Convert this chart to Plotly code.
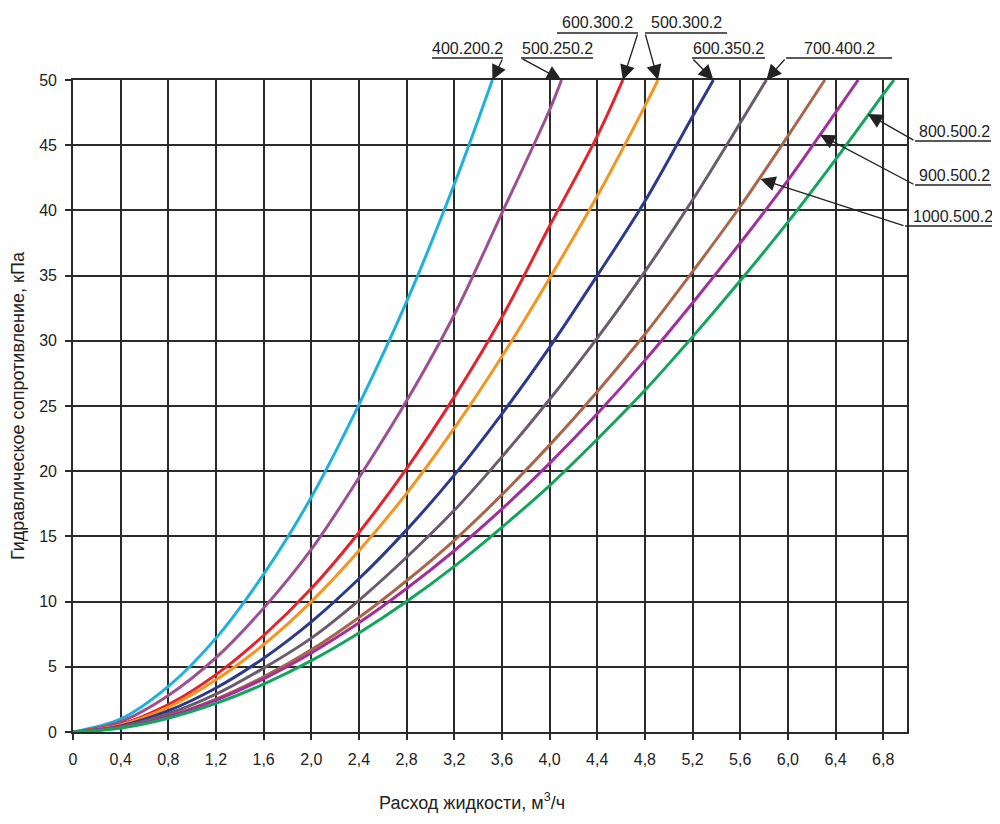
import plotly.graph_objects as go

# ---- data ----
names = ["400.200.2", "500.250.2", "600.300.2", "500.300.2", "600.350.2",
         "700.400.2", "1000.500.2", "900.500.2", "800.500.2"]

q_400_200 = [0, 0.4, 0.8, 1.2, 1.6, 2.0, 2.4, 2.8, 3.2, 3.52]
p_400_200 = [0, 1.0, 3.5, 7.2, 12.1, 18.0, 25.1, 33.0, 42.0, 50.0]

q_500_250 = [0, 0.4, 0.8, 1.2, 1.6, 2.0, 2.4, 2.8, 3.2, 3.6, 4.0, 4.10]
p_500_250 = [0, 0.8, 2.8, 5.7, 9.5, 14.0, 19.5, 25.4, 32.0, 39.8, 47.7, 50.0]

q_600_300 = [0, 0.4, 0.8, 1.2, 1.6, 2.0, 2.4, 2.8, 3.2, 3.6, 4.0, 4.4, 4.615]
p_600_300 = [0, 0.6, 2.1, 4.4, 7.4, 11.0, 15.3, 20.2, 25.7, 31.8, 38.8, 45.7, 50.0]

q_500_300 = [0, 0.4, 0.8, 1.2, 1.6, 2.0, 2.4, 2.8, 3.2, 3.6, 4.0, 4.4, 4.8, 4.91]
p_500_300 = [0, 0.55, 1.9, 4.0, 6.7, 10.0, 13.9, 18.3, 23.3, 28.8, 34.8, 41.1, 48.0, 50.0]

q_600_350 = [0, 0.4, 0.8, 1.2, 1.6, 2.0, 2.4, 2.8, 3.2, 3.6, 4.0, 4.4, 4.8, 5.2, 5.375]
p_600_350 = [0, 0.47, 1.63, 3.37, 5.66, 8.45, 11.75, 15.5, 19.7, 24.4, 29.5, 35.0, 40.7, 47.2, 50.0]

q_700_400 = [0, 0.4, 0.8, 1.2, 1.6, 2.0, 2.4, 2.8, 3.2, 3.6, 4.0, 4.4, 4.8, 5.2, 5.6, 5.82]
p_700_400 = [0, 0.40, 1.40, 2.9, 4.9, 7.2, 10.1, 13.4, 17.0, 21.1, 25.5, 30.2, 35.3, 40.8, 46.7, 50.0]

q_1000_500 = [0, 0.4, 0.8, 1.2, 1.6, 2.0, 2.4, 2.8, 3.2, 3.6, 4.0, 4.4, 4.8, 5.2, 5.6, 6.0, 6.31]
p_1000_500 = [0, 0.35, 1.21, 2.52, 4.23, 6.3, 8.78, 11.6, 14.7, 18.2, 22.0, 26.1, 30.5, 35.3, 40.3, 45.7, 50.0]

q_900_500 = [0, 0.4, 0.8, 1.2, 1.6, 2.0, 2.4, 2.8, 3.2, 3.6, 4.0, 4.4, 4.8, 5.2, 5.6, 6.0, 6.4, 6.59]
p_900_500 = [0, 0.35, 1.20, 2.45, 4.08, 6.06, 8.37, 11.0, 13.9, 17.1, 20.6, 24.4, 28.5, 32.9, 37.5, 42.3, 47.5, 50.0]

q_800_500 = [0, 0.4, 0.8, 1.2, 1.6, 2.0, 2.4, 2.8, 3.2, 3.6, 4.0, 4.4, 4.8, 5.2, 5.6, 6.0, 6.4, 6.8, 6.89]
p_800_500 = [0, 0.31, 1.06, 2.19, 3.67, 5.47, 7.59, 10.0, 12.7, 15.7, 18.9, 22.45, 26.2, 30.3, 34.6, 39.1, 43.9, 48.9, 50.0]

x_tick_vals = [0, 0.4, 0.8, 1.2, 1.6, 2.0, 2.4, 2.8, 3.2, 3.6, 4.0, 4.4, 4.8, 5.2, 5.6, 6.0, 6.4, 6.8]
x_tick_text = ["0", "0,4", "0,8", "1,2", "1,6", "2,0", "2,4", "2,8", "3,2", "3,6", "4,0",
               "4,4", "4,8", "5,2", "5,6", "6,0", "6,4", "6,8"]
y_tick_vals = [0, 5, 10, 15, 20, 25, 30, 35, 40, 45, 50]

series = [
    ("400.200.2", q_400_200, p_400_200, "#1eb1e0"),
    ("500.250.2", q_500_250, p_500_250, "#9d4f92"),
    ("600.300.2", q_600_300, p_600_300, "#e8222b"),
    ("500.300.2", q_500_300, p_500_300, "#f7941e"),
    ("600.350.2", q_600_350, p_600_350, "#2b3990"),
    ("700.400.2", q_700_400, p_700_400, "#6a5c6b"),
    ("1000.500.2", q_1000_500, p_1000_500, "#aa664a"),
    ("900.500.2", q_900_500, p_900_500, "#a2309b"),
    ("800.500.2", q_800_500, p_800_500, "#11a65c"),
]

# label placement (page pixels): text centre, underline, tail of leader, head point on curve (data)
labels = {
    "400.200.2": dict(tx=467, ty=48, ux0=432, ux1=503, uy=58, tail=(503, 58), head=(3.52, 50.0)),
    "500.250.2": dict(tx=557, ty=48, ux0=521, ux1=593, uy=58, tail=(521, 58), head=(4.10, 50.0)),
    "600.300.2": dict(tx=597, ty=23, ux0=557, ux1=638, uy=33, tail=(638, 33), head=(4.615, 50.0)),
    "500.300.2": dict(tx=686, ty=23, ux0=645, ux1=727, uy=33, tail=(645, 33), head=(4.91, 50.0)),
    "600.350.2": dict(tx=728, ty=48, ux0=692, ux1=765, uy=58, tail=(692, 58), head=(5.375, 50.0)),
    "700.400.2": dict(tx=839, ty=48, ux0=786, ux1=892, uy=58, tail=(786, 58), head=(5.82, 50.0)),
    "800.500.2": dict(tx=954, ty=131, ux0=915, ux1=991, uy=141, tail=(915, 141), head=(6.67, 47.4)),
    "900.500.2": dict(tx=954, ty=175, ux0=915, ux1=991, uy=185, tail=(915, 185), head=(6.27, 45.8)),
    "1000.500.2": dict(tx=953, ty=216, ux0=905, ux1=1000, uy=226, tail=(905, 226), head=(5.77, 42.4)),
}

# plot area in page pixels
PL, PR, PT, PB = 73, 907, 80, 732
XMAX, YMAX = 7.0, 50.0


def px_to_paper(px, py):
    return (px - PL) / (PR - PL), (PB - py) / (PB - PT)


def px_to_data(px, py):
    return (px - PL) / (PR - PL) * XMAX, (PB - py) / (PB - PT) * YMAX


fig = go.Figure()
for name, q, p, col in series:
    fig.add_trace(go.Scatter(x=q, y=p, mode="lines", name=name,
                             line=dict(color=col, width=3, shape="spline", smoothing=1.0),
                             showlegend=False, cliponaxis=True))

font_family = "Liberation Sans, Arial, sans-serif"
annotations = []
shapes = []
for name, d in labels.items():
    x, y = px_to_paper(d["tx"], d["ty"])
    annotations.append(dict(xref="paper", yref="paper", x=x, y=y, text=name, showarrow=False,
                            xanchor="center", yanchor="middle",
                            font=dict(family=font_family, size=16, color="#222")))
    x0, y0 = px_to_paper(d["ux0"], d["uy"])
    x1, _ = px_to_paper(d["ux1"], d["uy"])
    shapes.append(dict(type="line", xref="paper", yref="paper", x0=x0, x1=x1, y0=y0, y1=y0,
                       line=dict(color="#222", width=1.3)))
    tx, ty = px_to_data(*d["tail"])
    annotations.append(dict(xref="x", yref="y", axref="x", ayref="y",
                            x=d["head"][0], y=d["head"][1], ax=tx, ay=ty,
                            text="", showarrow=True, arrowhead=2, arrowsize=2.3,
                            arrowwidth=1.3, arrowcolor="#222", standoff=0))

# axis titles
xt, yt = px_to_paper(472, 801)
annotations.append(dict(xref="paper", yref="paper", x=xt, y=yt, showarrow=False,
                        text="Расход жидкости, м<sup>3</sup>/ч",
                        xanchor="center", yanchor="middle",
                        font=dict(family=font_family, size=18, color="#222")))
xt, yt = px_to_paper(18, 406)
annotations.append(dict(xref="paper", yref="paper", x=xt, y=yt, showarrow=False,
                        text="Гидравлическое сопротивление, кПа", textangle=-90,
                        xanchor="center", yanchor="middle",
                        font=dict(family=font_family, size=18, color="#222")))

axis_common = dict(showgrid=True, gridcolor="#2a2a2a", gridwidth=1.6,
                   showline=True, linecolor="#2a2a2a", linewidth=1.6, mirror=True,
                   ticks="outside", ticklen=6, tickwidth=1.6, tickcolor="#2a2a2a",
                   zeroline=False, tickfont=dict(family=font_family, size=16, color="#222"))

fig.update_layout(
    width=984, height=808,
    margin=dict(l=PL - 8, r=984 - (PR - 8), t=PT - 8, b=808 - (PB - 8), pad=0),
    paper_bgcolor="white", plot_bgcolor="white",
    xaxis=dict(range=[0, XMAX], tickmode="array", tickvals=x_tick_vals, ticktext=x_tick_text,
               ticklabelstandoff=6, **axis_common),
    yaxis=dict(range=[0, YMAX], tickmode="array", tickvals=y_tick_vals,
               ticklabelstandoff=5, **axis_common),
    annotations=annotations, shapes=shapes,
)

fig.write_html("out.html")
